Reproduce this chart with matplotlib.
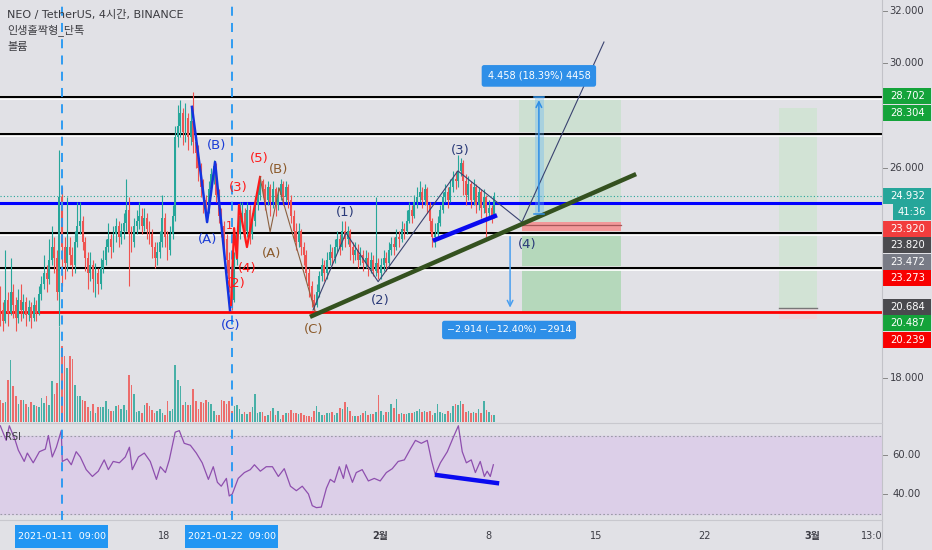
import matplotlib
matplotlib.use('Agg')
import matplotlib.pyplot as plt
import matplotlib.transforms as mtransforms
from matplotlib.patches import Rectangle
from matplotlib.lines import Line2D
import numpy as np

plt.rcParams['font.family'] = ['DejaVu Sans', 'Noto Sans CJK KR']

# ---------------- data (4h candles, NEO/USDT) ----------------
first_open = 20.9
close = [20.6, 20.2, 21.0, 20.5, 21.3, 20.8, 20.3, 21.0, 20.6,
         20.9, 20.4, 20.7, 20.3, 20.8, 20.5,
         21.2, 21.6, 22.0, 21.8,
         22.5, 23.0, 22.6, 21.3, 24.9, 23.0, 22.4, 23.0, 22.7,
         22.3, 23.2, 23.8,
         24.0, 23.2, 22.6, 22.0, 22.3,
         21.8, 22.0, 21.6, 22.2,
         22.5, 23.0, 23.3, 23.0,
         23.5, 23.8, 23.4, 23.6,
         23.9, 24.4, 23.5, 23.2, 23.8,
         24.0, 24.2, 23.8, 24.1, 23.7, 23.5,
         23.0, 22.6, 22.8, 23.2,
         24.1, 23.4, 22.9, 23.5, 24.2,
         27.2,
         27.6, 28.1, 27.4, 27.9, 27.2, 27.8, 27.0,
         26.6, 26.0, 25.3, 24.8, 24.4,
         25.2, 25.8, 26.1,
         25.0, 24.2, 23.8, 23.3,
         22.5, 21.8, 21.0,
         22.5, 23.5, 24.2,
         24.3, 23.6, 24.4, 23.5,
         24.0, 24.6, 25.0, 25.5, 25.2,
         24.8, 25.3, 24.7, 25.2, 24.6,
         25.0, 25.4, 24.9, 25.3, 24.8,
         24.2, 23.6, 23.2, 23.6, 23.0, 22.7,
         22.0, 21.5, 21.0, 20.8,
         21.3, 21.9, 22.3, 22.0,
         22.5, 22.8, 22.6, 23.0,
         23.3, 23.0, 23.6, 23.3, 23.6,
         23.0, 22.7, 22.9, 22.5, 22.7, 22.4,
         22.6, 22.2, 22.5, 22.1, 22.4, 22.0,
         22.3, 22.6, 22.4, 22.9, 23.1,
         23.0, 23.4, 23.3, 23.7, 23.6,
         24.0, 24.4, 24.2, 24.7, 24.9,
         25.1, 24.8, 25.2,
         24.6, 24.0, 23.4,
         23.5, 23.9, 24.4, 24.9,
         25.1, 24.8, 25.3, 25.6,
         25.5, 25.9, 26.2,
         25.5, 25.0, 25.4, 24.8, 25.3,
         24.6, 25.1, 24.5, 24.9, 24.3,
         24.5, 24.2, 24.93]
high = [21.5, 20.9, 22.9, 21.3, 22.6, 21.6, 21.1, 21.4, 21.6,
        21.2, 21.1, 21.0, 20.9, 21.1, 21.0,
        21.5, 21.9, 22.7, 22.3,
        23.3, 23.8, 23.4, 22.9, 26.7, 25.3, 23.4, 24.9, 23.4,
        23.0, 23.6, 24.7,
        24.7, 24.2, 23.4, 22.8, 22.8,
        22.5, 22.4, 22.2, 22.6,
        22.9, 23.3, 23.9, 23.5,
        23.8, 24.1, 24.0, 23.9,
        24.3, 25.6, 24.9, 23.8, 24.1,
        24.4, 24.7, 24.5, 24.5, 24.3, 24.0,
        23.7, 23.2, 23.2, 23.6,
        25.0, 24.3, 23.6, 23.8, 24.6,
        27.6,
        28.4, 28.6, 28.3, 28.5, 28.1, 28.3, 28.9,
        27.3, 26.9, 26.2, 25.6, 25.0,
        25.5, 26.0, 26.3,
        26.2, 25.2, 24.5, 24.0,
        23.5, 22.8, 22.1,
        22.8, 23.8, 24.7,
        24.7, 24.5, 24.7, 24.6,
        24.3, 24.9, 25.3, 25.7, 25.6,
        25.4, 25.5, 25.4, 25.5, 25.3,
        25.3, 25.6, 25.5, 25.5, 25.4,
        25.0, 24.4, 23.9, 23.9, 23.7, 23.2,
        22.9, 22.2, 21.7, 21.2,
        21.6, 22.1, 22.6, 22.5,
        22.8, 23.1, 23.0, 23.3,
        23.6, 23.5, 24.0, 24.0, 23.8,
        23.7, 23.2, 23.2, 23.1, 23.0, 22.9,
        22.9, 22.8, 22.8, 22.7, 24.9, 22.6,
        22.6, 22.9, 22.8, 23.2, 23.4,
        23.4, 23.7, 23.6, 24.0, 23.9,
        24.4, 24.7, 24.6, 25.0, 25.3,
        25.5, 25.3, 25.4,
        25.3, 24.7, 24.1,
        23.9, 24.2, 24.6, 25.1,
        25.4, 25.3, 25.6, 25.9,
        25.9, 26.5, 26.4,
        26.3, 25.8, 25.7, 25.5, 25.6,
        25.4, 25.3, 25.2, 25.2, 25.0,
        24.8, 24.6, 25.1]
low = [20.0, 19.8, 20.1, 20.0, 20.4, 20.3, 19.8, 20.1, 20.2,
       20.3, 20.0, 20.2, 19.9, 20.2, 20.2,
       20.4, 21.0, 21.4, 21.3,
       21.6, 22.3, 22.0, 21.0, 20.0, 21.5, 21.8, 22.1, 22.3,
       21.9, 22.0, 23.0,
       23.5, 22.9, 22.1, 21.4, 21.7,
       21.3, 21.1, 21.2, 21.4,
       22.0, 22.3, 22.8, 22.6,
       22.8, 23.2, 23.0, 23.1,
       23.3, 23.6, 21.5, 22.8, 23.0,
       23.5, 23.7, 23.5, 23.6, 23.3, 23.1,
       22.6, 22.2, 22.3, 22.6,
       23.0, 23.0, 22.5, 22.7, 23.3,
       24.0,
       26.8, 27.2, 26.9, 27.0, 26.7, 26.9, 26.6,
       26.0, 25.5, 24.9, 24.3, 24.2,
       24.3, 25.0, 25.4,
       24.7, 23.9, 23.4, 22.8,
       22.0, 21.3, 20.6,
       20.9, 22.3, 23.3,
       23.8, 23.2, 23.4, 23.1,
       23.3, 23.8, 24.4, 24.8, 24.9,
       24.4, 24.6, 24.2, 24.5, 24.2,
       24.4, 24.8, 24.6, 24.7, 24.5,
       23.9, 23.3, 22.9, 23.0, 22.7, 22.3,
       21.7, 21.1, 20.7, 20.55,
       20.7, 21.1, 21.7, 21.7,
       21.8, 22.3, 22.3, 22.4,
       22.8, 22.7, 22.9, 23.0, 23.1,
       22.5, 22.4, 22.5, 22.2, 22.3, 22.1,
       22.2, 21.9, 22.0, 21.9, 21.9, 21.8,
       21.8, 22.1, 22.1, 22.3, 22.7,
       22.7, 22.9, 23.0, 23.2, 23.3,
       23.5, 23.9, 23.9, 24.1, 24.5,
       24.7, 24.5, 24.6,
       24.3, 23.6, 23.0,
       23.0, 23.3, 23.8, 24.3,
       24.7, 24.5, 24.7, 25.1,
       25.2, 25.3, 25.7,
       25.0, 24.6, 24.8, 24.5, 24.6,
       24.3, 24.4, 24.1, 24.3, 23.4,
       24.1, 23.9, 24.1]
volume = [22, 19, 20, 42, 62, 36, 26, 18, 22, 22,
          18, 15, 20, 17, 16, 15, 24, 19, 26, 17,
          41, 28, 39, 95, 76, 66, 54, 66, 63, 37,
          26, 26, 22, 21, 15, 11, 18, 9, 15, 15,
          15, 21, 13, 11, 11, 16, 17, 13, 17, 12,
          47, 37, 28, 10, 11, 9, 17, 19, 16, 12,
          9, 11, 13, 9, 7, 21, 11, 13, 57, 42,
          36, 17, 20, 17, 17, 33, 21, 13, 20, 19,
          22, 20, 18, 11, 7, 7, 22, 21, 18, 21,
          11, 16, 17, 13, 8, 10, 8, 10, 15, 28,
          9, 10, 10, 6, 7, 11, 14, 7, 11, 3,
          7, 9, 9, 12, 9, 9, 8, 9, 7, 6,
          6, 5, 11, 16, 10, 7, 7, 9, 9, 10,
          7, 9, 14, 13, 20, 15, 11, 6, 6, 6,
          7, 9, 11, 7, 8, 8, 10, 27, 11, 7,
          10, 10, 18, 14, 23, 8, 9, 8, 8, 9,
          9, 10, 11, 13, 10, 11, 10, 11, 7, 9,
          18, 10, 9, 8, 11, 9, 16, 18, 17, 21,
          18, 10, 11, 9, 10, 9, 13, 9, 21, 12,
          10, 7, 7]
rsi_idx = [0, 2.3, 3.5, 5.8, 7, 9.3, 10.5, 12.8, 15.2, 17.5,
           18.7, 20.2, 21.8, 23.7, 24.1, 26, 27.6, 29.5, 31.1, 33.4,
           35.8, 38.1, 40.4, 42, 43.9, 46.3, 48.6, 50.2, 51.3, 53.7,
           56, 58.3, 60.7, 62.2, 64.2, 65.7, 68, 69.6, 71.5, 73.9,
           76.2, 78.5, 80.9, 82.8, 84.4, 85.9, 87.9, 89, 90.2, 92.5,
           94.9, 97.2, 98.8, 101.1, 103.4, 105.8, 108.1, 110.4, 112.8, 115.1,
           117.4, 119.8, 121.3, 122.9, 124.8, 126.8, 128.3, 129.9, 131.8, 133.4,
           134.5, 136.9, 138.4, 140.7, 143.1, 145.4, 147.7, 150.1, 152.4, 154.7,
           157.1, 159.4, 161.4, 163.7, 166, 167.6, 169.1, 171.1, 173.8, 176.1,
           178.1, 179.6, 181.2, 183.1, 184.7, 186.6, 188.2, 189.3, 190.5, 191.7]
rsi_val = [75, 67.5, 75, 67.5, 62.5, 56.7, 61, 56, 61.7, 63,
           70, 59, 64, 72.5, 56.7, 58, 55, 61.7, 59, 52.5,
           49, 51.7, 57.5, 52.5, 56.7, 56, 59, 64, 52.5, 59,
           61, 56.7, 47.5, 54, 51, 57.5, 71.7, 72.5, 66, 65,
           61, 56, 47.5, 54, 46, 44, 48, 39, 40, 48,
           51, 52.5, 55, 51.7, 54, 54, 49, 53, 44, 41.7,
           44, 40, 34, 33, 33.3, 43, 47.5, 46, 54, 48,
           55, 46, 51, 52.5, 46.7, 48, 46.7, 51, 53, 56.7,
           57.5, 63, 67.5, 66, 67.5, 57.5, 50, 56, 61.7, 69,
           75, 61.7, 56, 57.5, 51, 56.7, 49, 51.7, 49, 55]

# horizontal levels
black_levels = [28.702, 27.31, 23.53, 22.20]
blue_level = 24.69
red_level = 20.52
last_price = 24.932

# wave drawings (candle index, price)
navy_wave_x = [121.6, 134.4, 146.9, 177.9, 202.8, 234.7]
navy_wave_y = [20.60, 23.54, 21.68, 25.90, 23.95, 30.81]
blue_abc_x = [74.5, 80.4, 83.5, 89.3]
blue_abc_y = [28.34, 23.95, 26.24, 20.60]
red_wave_x = [89.7, 90.9, 92.0, 92.8, 95.9, 101.0]
red_wave_y = [20.79, 23.72, 22.58, 24.6, 23.0, 25.67]
brown_wave_x = [101.0, 104.9, 108.4, 122.4]
brown_wave_y = [25.67, 23.58, 25.25, 20.56]
trend_x = [120.4, 247.2]
trend_y = [20.34, 25.78]
blue_seg_x = [169.0, 192.3]
blue_seg_y = [23.27, 24.18]
rsi_seg_x = [169.8, 193.1]
rsi_seg_y = [49.7, 45.6]

W, H = 932, 550
BG = '#e1e1e6'
TEAL = '#26a69a'
RED = '#ef5350'

fig = plt.figure(figsize=(W / 100, H / 100), dpi=100, facecolor=BG)

XL = (-0.117, 342.8)
main_rect = [0, 1 - 422 / H, 882 / W, 422 / H]
ax_v = fig.add_axes(main_rect)
ax_v.set_facecolor(BG)
ax = fig.add_axes(main_rect, sharex=ax_v)
ax.patch.set_alpha(0)
ax_r = fig.add_axes([0, 1 - 520 / H, 882 / W, 96 / H])
ax_r.set_facecolor(BG)
for a in (ax_v, ax, ax_r):
    a.set_xlim(XL)
    for s in a.spines.values():
        s.set_visible(False)
    a.set_xticks([])
    a.set_yticks([])
ax_v.set_ylim(0, 422)
ax.set_ylim(16.335, 32.411)
ax_r.set_ylim(26.67, 75.9)

c = np.array(close)
o = np.array([first_open] + close[:-1])
hi = np.array(high)
lo = np.array(low)
idx = np.arange(len(c))
up = c >= o
cols = np.where(up, TEAL, RED)

# volume
ax_v.bar(idx, volume, width=0.62, color=cols, alpha=0.82, zorder=2)

# horizontal levels
for p in black_levels:
    ax.axhline(p, color='white', lw=3.4, zorder=3)
    ax.axhline(p, color='black', lw=1.6, zorder=3.1)
ax.axhline(blue_level, color='#0000ff', lw=2.2, zorder=3.1)
ax.axhline(red_level, color='#ff0000', lw=2.0, zorder=3.1)
ax.axhline(last_price, color=TEAL, lw=0.8, ls=(0, (1, 2)), zorder=3)

# position boxes
ax.add_patch(Rectangle((201.7, 23.96), 39.6, 28.702 - 23.96, fc='#c9e0cd', ec='none', alpha=0.8, zorder=1))
ax.add_patch(Rectangle((202.8, 23.54), 38.5, 23.96 - 23.54, fc='#f2999a', ec='none', zorder=1.5))
ax.plot([202.8, 241.3], [23.83, 23.83], color='#a8585a', lw=0.9, zorder=1.6)
ax.add_patch(Rectangle((202.8, red_level), 38.5, 23.54 - red_level, fc='#b5d8bb', ec='none', zorder=1))
ax.add_patch(Rectangle((302.8, 20.68), 14.7, 28.304 - 20.68, fc='#d2e3d5', ec='none', zorder=1))
ax.add_patch(Rectangle((302.8, 20.24), 14.7, 20.68 - 20.24, fc='#ecd7dc', ec='none', zorder=1))
ax.plot([302.8, 317.5], [20.68, 20.68], color='#777777', lw=1.0, zorder=1.6)

# candles
ax.vlines(idx, lo, hi, colors=cols, lw=0.8, zorder=4)
body = np.maximum(np.abs(c - o), 0.04)
ax.bar(idx, body, bottom=np.minimum(o, c), width=0.75, color=cols, zorder=4.1)

# dashed vertical lines
for xv in (24, 90):
    ax.axvline(xv, color='#2196f3', lw=1.3, ls=(0, (5, 4)), zorder=5)
    ax_r.axvline(xv, color='#2196f3', lw=1.3, ls=(0, (5, 4)), zorder=5)

# waves
ax.plot(blue_abc_x, blue_abc_y, color='#1233e0', lw=1.8, zorder=6)
ax.plot(red_wave_x, red_wave_y, color='#ff1a1a', lw=1.6, zorder=6)
ax.plot(brown_wave_x, brown_wave_y, color='#8b6040', lw=0.8, zorder=6)
ax.plot(navy_wave_x, navy_wave_y, color='#3a4370', lw=0.8, zorder=6)
ax.plot(trend_x, trend_y, color='#34511f', lw=3.2, solid_capstyle='butt', zorder=6)
ax.plot(blue_seg_x, blue_seg_y, color='#0a0af0', lw=3.2, zorder=6)

wave_labels = [
    ('(B)', 83.9, 26.88, '#1a3cd6'), ('(A)', 80.4, 23.27, '#1a3cd6'), ('(C)', 89.7, 20.03, '#1a3cd6'),
    ('(5)', 100.6, 26.39, '#ff1a1a'), ('(3)', 92.4, 25.25, '#ff1a1a'), ('(4)', 95.9, 22.2, '#ff1a1a'),
    ('(2)', 91.6, 21.6, '#ff1a1a'),
    ('(A)', 105.3, 22.77, '#8b5a2b'), ('(B)', 108.0, 25.94, '#8b5a2b'), ('(C)', 122.0, 19.84, '#8b5a2b'),
    ('(1)', 134.0, 24.3, '#2a3a78'), ('(2)', 147.6, 20.95, '#2a3a78'), ('(3)', 178.7, 26.66, '#2a3a78'),
    ('(4)', 204.8, 23.08, '#2a3a78'),
]
for t, xx, yy, col in wave_labels:
    ax.text(xx, yy, t, color=col, fontsize=9.5, ha='center', va='center', zorder=7)
ax.text(88.9, 23.8, '1', color='#ff1a1a', fontsize=8, ha='center', va='center', zorder=5.5)

# measure tools
ax.add_patch(Rectangle((207.9, 24.244), 3.5, 28.702 - 24.244, fc='#64b5f6', ec='none', alpha=0.35, zorder=5))
ax.annotate('', xy=(209.4, 28.702), xytext=(209.4, 24.244),
            arrowprops=dict(arrowstyle='->', color='#2f8fe6', lw=1.1), zorder=6)
ax.plot([207.5, 211.3], [24.244, 24.244], color='#2f8fe6', lw=1.1, zorder=6)
ax.plot([207.5, 211.3], [28.702, 28.702], color='#2f8fe6', lw=1.1, zorder=6)
ax.text(209.4, 29.52, '4.458 (18.39%) 4458', color='white', fontsize=7, ha='center', va='center', zorder=8,
        bbox=dict(boxstyle='round,pad=0.6,rounding_size=0.25', fc='#2e8fe8', ec='none'))
ax.annotate('', xy=(198.2, 20.586), xytext=(198.2, 23.5),
            arrowprops=dict(arrowstyle='->', color='#4a9ff0', lw=1.1), zorder=6)
ax.text(197.8, 19.84, '\u22122.914 (\u221212.40%) \u22122914', color='white', fontsize=6.8, ha='center',
        va='center', zorder=8,
        bbox=dict(boxstyle='round,pad=0.5,rounding_size=0.25', fc='#2e8fe8', ec='none'))

# RSI pane
ax_r.axhspan(30, 70, color='#dccfe8', zorder=0)
ax_r.axhline(70, color='#9a9aa6', lw=0.8, ls=(0, (1.5, 2)), zorder=1)
ax_r.axhline(30, color='#9a9aa6', lw=0.8, ls=(0, (1.5, 2)), zorder=1)
ax_r.plot(rsi_idx, rsi_val, color='#8e4fae', lw=0.9, zorder=3)
ax_r.plot(rsi_seg_x, rsi_seg_y, color='#0a0af0', lw=3.2, zorder=4)

# separators
fig.add_artist(Line2D([882 / W, 882 / W], [0, 1], color='#c2c2c8', lw=0.8))
fig.add_artist(Line2D([0, 882 / W], [1 - 423 / H, 1 - 423 / H], color='#c8c8ce', lw=0.8))
fig.add_artist(Line2D([0, 882 / W], [1 - 520 / H, 1 - 520 / H], color='#c8c8ce', lw=0.8))

# price axis labels
tr = mtransforms.blended_transform_factory(ax.transAxes, ax.transData)
for val in (32, 30, 26, 18):
    ax.text(1.028, val, f'{val:.3f}', transform=tr, fontsize=7.2, color='#3c3c44', ha='center', va='center',
            clip_on=False)
    ax.plot([1.001, 1.006], [val, val], transform=tr, color='#888', lw=0.7, clip_on=False)

price_tags = [('28.702', 28.75, '#14a33a'), ('28.304', 28.10, '#14a33a'), ('24.932', 24.94, TEAL),
              ('23.920', 23.69, '#f23d3d'), ('23.820', 23.08, '#4a4a4e'), ('23.472', 22.43, '#787b86'),
              ('23.273', 21.82, '#f80000'), ('20.684', 20.72, '#4a4a4e'), ('20.487', 20.11, '#14a33a'),
              ('20.239', 19.46, '#f80000')]
for t, yy, col in price_tags:
    ax.add_patch(Rectangle((1.0015, yy - 0.305), 0.0535, 0.61, transform=tr, fc=col, ec='none', clip_on=False))
    ax.text(1.029, yy, t, transform=tr, fontsize=7.2, color='white', ha='center', va='center', clip_on=False)
ax.add_patch(Rectangle((1.0125, 24.34 - 0.305), 0.0425, 0.61, transform=tr, fc=TEAL, ec='none', clip_on=False))
ax.text(1.034, 24.34, '41:36', transform=tr, fontsize=7.2, color='white', ha='center', va='center', clip_on=False)

trr = mtransforms.blended_transform_factory(ax_r.transAxes, ax_r.transData)
for val in (60, 40):
    ax_r.text(1.028, val, f'{val:.2f}', transform=trr, fontsize=7.2, color='#3c3c44', ha='center', va='center',
              clip_on=False)
    ax_r.plot([1.001, 1.006], [val, val], transform=trr, color='#888', lw=0.7, clip_on=False)

# time axis
trt = mtransforms.blended_transform_factory(ax_r.transData, ax_r.transAxes)
time_ticks = [(63.75, '18', 'normal'), (147.75, '2월', 'bold'), (189.75, '8', 'normal'),
              (231.75, '15', 'normal'), (273.75, '22', 'normal'), (315.75, '3월', 'bold'), (338.9, '13:0', 'normal')]
for xx, t, w in time_ticks:
    ax_r.text(xx, -0.167, t, transform=trt, fontsize=7, color='#3c3c44', fontweight=w, ha='center',
              va='center', clip_on=False)
for xx, t in ((24, '2021-01-11  09:00'), (90, '2021-01-22  09:00')):
    ax_r.add_patch(Rectangle((xx - 18.3, -0.292), 36.2, 0.24, transform=trt, fc='#2196f3', ec='none',
                             clip_on=False))
    ax_r.text(xx, -0.17, t, transform=trt, fontsize=6.8, color='white', ha='center', va='center', clip_on=False)

# header
fig.text(7 / W, 1 - 15 / H, 'NEO / TetherUS, 4시간, BINANCE', fontsize=8, color='#3b3b40', va='center')
fig.text(7 / W, 1 - 31 / H, '인생홀짝형_단톡', fontsize=8, color='#3b3b40', va='center')
fig.text(7 / W, 1 - 47 / H, '볼륨', fontsize=8, color='#3b3b40', va='center')
fig.text(5 / W, 1 - 437 / H, 'RSI', fontsize=7, color='#3b3b40', va='center')

fig.savefig('out.png', dpi=100, facecolor=BG)
